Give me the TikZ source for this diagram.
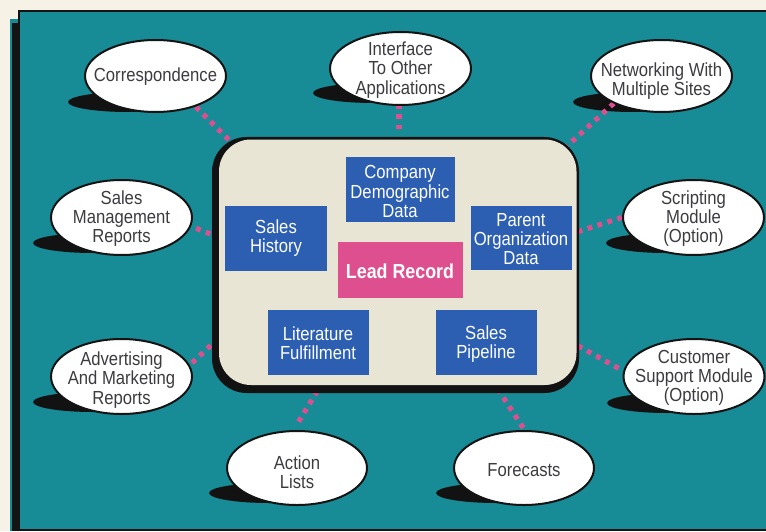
\documentclass[tikz,border=0pt]{standalone}
\usepackage{fontspec}
\setmainfont{Liberation Sans}[FakeStretch=0.88]
\usetikzlibrary{shapes.geometric}
\definecolor{teal1}{HTML}{188C96}
\definecolor{cream}{HTML}{F7F2E6}
\definecolor{beige}{HTML}{E8E5D5}
\definecolor{blue1}{HTML}{2C5FB2}
\definecolor{pink1}{HTML}{DE4F90}
\definecolor{ink}{HTML}{3C3C40}
\tikzset{
  x=0.75pt,y=-0.75pt,
  bub/.style={ellipse,draw=black!92,line width=1.5pt,fill=white,inner sep=0pt,outer sep=0pt},
  bubtext/.style={inner sep=0pt,align=center,text=ink,font=\fontsize{14.2}{14.4}\selectfont},
  shad/.style={fill=black!93,draw=none},
  bluebox/.style={rectangle,fill=blue1,inner sep=0pt},
  boxtext/.style={inner sep=0pt,align=center,text=white,font=\fontsize{14.2}{14.4}\selectfont},
  link/.style={draw=pink1,line width=3.8pt,dash pattern=on 3.6pt off 4.2pt,shorten <=-1.8pt,shorten >=-1.8pt}
}
% name, centre x, centre y, width, height, text y, text
\newcommand\bubblenode[7]{%
  \node[bub,minimum width=#4*0.75pt,minimum height=#5*0.75pt] (#1) at (#2,#3) {};
  \node[bubtext] (#1t) at (#2,#6) {#7};}
\newcommand\platenode[7]{%
  \node[bluebox,minimum width=#4*0.75pt,minimum height=#5*0.75pt] (#1) at (#2,#3) {};
  \node[boxtext] (#1t) at (#2,#6) {#7};}
\begin{document}
\begin{tikzpicture}
\useasboundingbox (0,0) rectangle (766,531);
\fill[cream] (0,0) rectangle (766,531);
% frame
\fill[teal1] (10,19) rectangle (20,531);
\fill[black!92] (12,23) rectangle (20,531);
\fill[black!92] (17.5,10) rectangle (766,12);
\fill[black!92] (17.5,10) rectangle (20,24);
\fill[teal1] (20,12) rectangle (766,529);
\fill[black!92] (12,529) rectangle (766,531);
% shadows
\fill[shad] (128,102) ellipse [x radius=60,y radius=10];
\fill[shad] (373,93) ellipse [x radius=60,y radius=10];
\fill[shad] (633,102) ellipse [x radius=60,y radius=10];
\fill[shad] (93,243) ellipse [x radius=60,y radius=10];
\fill[shad] (666,243) ellipse [x radius=60,y radius=10];
\fill[shad] (93,402) ellipse [x radius=60,y radius=10];
\fill[shad] (667,403) ellipse [x radius=60,y radius=10];
\fill[shad] (269,493) ellipse [x radius=60,y radius=10];
\fill[shad] (496,493) ellipse [x radius=60,y radius=10];
% connector ends
\coordinate (e1) at (197,108); \coordinate (c1) at (227,138);
\coordinate (e2) at (399,107); \coordinate (c2) at (399,127);
\coordinate (e3) at (613,104); \coordinate (c3) at (566,147);
\coordinate (e4) at (198,229); \coordinate (c4) at (208,233);
\coordinate (e5) at (620,218); \coordinate (c5) at (580,231);
\coordinate (e6) at (193,362); \coordinate (c6) at (209,347);
\coordinate (e7) at (618,368); \coordinate (c7) at (580,347);
\coordinate (e8) at (299,421); \coordinate (c8) at (316,393);
\coordinate (e9) at (522,426); \coordinate (c9) at (499,391);
\foreach \a/\b in {e1/c1,e2/c2,e3/c3,e4/c4,e5/c5,e6/c6,e7/c7,e8/c8,e9/c9}
  \draw[link] (\b) -- (\a);
% central panel
\fill[black!93,rounded corners=26pt] (212,137) rectangle (579,393);
\fill[beige,rounded corners=24pt] (219,139.5) rectangle (576.5,385);
% boxes
\platenode{demo}{400}{189.5}{109}{65}{191.5}{Company\\Demographic\\Data}
\platenode{hist}{276}{238.5}{102}{65}{238.5}{Sales\\History}
\platenode{org}{521}{238}{101}{64}{239}{Parent\\Organization\\Data}
\node[rectangle,fill=pink1,inner sep=0pt,minimum width=125*0.75pt,minimum height=56*0.75pt] (lead) at (400,270) {};
\node[inner sep=0pt,text=white,font=\fontsize{15.2}{16}\selectfont\bfseries] (leadt) at (400,271) {Lead Record};
\platenode{lit}{318}{342.5}{101}{65}{343}{Literature\\Fulfillment}
\platenode{pipe}{486}{342.5}{101}{65}{344}{Sales\\Pipeline}
% bubbles
\bubblenode{corr}{155.5}{76}{141}{72}{77}{Correspondence}
\bubblenode{intf}{400.5}{68.5}{141}{73}{70}{Interface\\To Other\\Applications}
\bubblenode{net}{661.5}{76}{141}{72}{81}{Networking With\\Multiple Sites}
\bubblenode{mgmt}{121.5}{217.5}{141}{75}{218.5}{Sales\\Management\\Reports}
\bubblenode{scr}{693.5}{217.5}{141}{75}{218.5}{Scripting\\Module\\(Option)}
\bubblenode{adv}{121.5}{376.5}{141}{75}{380}{Advertising\\And Marketing\\Reports}
\bubblenode{cust}{694}{376.5}{141}{75}{378}{Customer\\Support Module\\(Option)}
\bubblenode{act}{297}{468}{140}{74}{472}{Action\\Lists}
\bubblenode{fore}{524}{468}{140}{74}{470}{Forecasts}
\end{tikzpicture}
\end{document}
